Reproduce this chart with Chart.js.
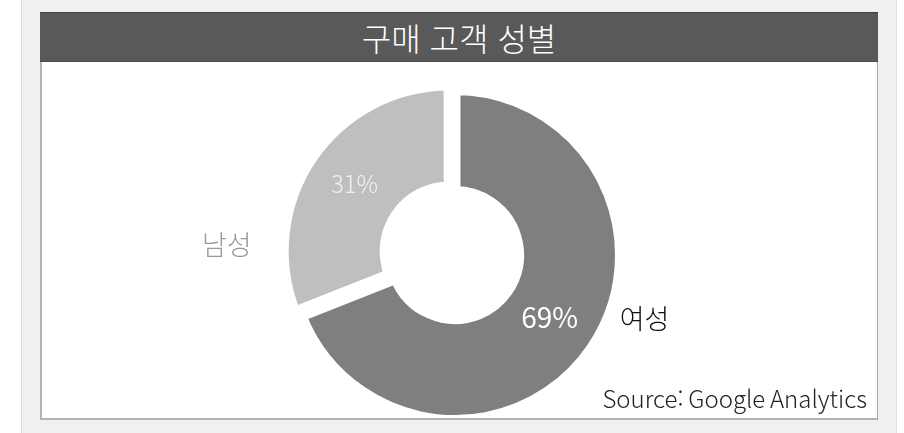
<!DOCTYPE html>
<html lang="ko">
<head>
<meta charset="utf-8">
<script src="https://cdn.jsdelivr.net/npm/chart.js@4.4.1/dist/chart.umd.min.js"></script>
<style>
  html, body { margin: 0; padding: 0; background: #fff; }
  body { width: 904px; height: 433px; position: relative; overflow: hidden;
         font-family: "Noto Sans CJK KR", "Noto Sans", sans-serif; }
  .wrap { position: absolute; left: 21px; top: 0; width: 874px; height: 433px;
          background: #f0f0f0; border-left: 1px solid #dcdce4; border-right: 1px solid #dcdce4; }
  .panel { position: absolute; left: 40px; top: 12px; width: 838px; height: 408px; background: #fff; }
  .clip { position: absolute; left: 0; top: 0; width: 904px; height: 420px; overflow: hidden; }
  .frame { position: absolute; left: 40px; top: 12px; width: 835px; height: 406px;
           border-left: 2px solid #b3b3b3; border-right: 1px solid #a8a8a8;
           border-bottom: 2px solid #b3b3b3; pointer-events: none; }
  .title { position: absolute; left: 40px; top: 12px; width: 838px; height: 48px;
           background: #595959; border-top: 1px solid #3e3e3e; border-bottom: 1px solid #4c4c4c;
           color: #fff; font-size: 32px; line-height: 48px; text-align: center; font-weight: 300; }
  .source { position: absolute; right: 37px; top: 380px; font-size: 24px; color: #222;
            font-weight: 300; word-spacing: -2px; }
  #chart { position: absolute; left: 0; top: 0; }
</style>
</head>
<body>
<div class="wrap"></div>
<div class="panel"></div>
<div class="clip"><canvas id="chart" width="904" height="433"></canvas></div>
<div class="frame"></div>
<div class="title">구매 고객 성별</div>
<div class="source">Source: Google Analytics</div>
<script>
// data
const genderLabels = ['여성', '남성'];
const genderShare = [69, 31];
const sliceColors = ['#7f7f7f', '#bfbfbf'];
const sliceOffsets = [0, 28];

// label text styling per category
const pctStyle = [
  { font: '400 28px "Noto Sans CJK KR"', color: '#ffffff' },
  { font: '300 24px "Noto Sans CJK KR"', color: '#f2f2f2' }
];
const nameStyle = [
  { font: '300 27px "Noto Sans CJK KR"', color: '#111111', side: 'right' },
  { font: '300 27px "Noto Sans CJK KR"', color: '#9a9a9a', side: 'left' }
];

const sliceLabels = {
  id: 'sliceLabels',
  afterDatasetsDraw(chart) {
    const ctx = chart.ctx;
    const meta = chart.getDatasetMeta(0);
    meta.data.forEach((arc, i) => {
      const p = arc.getProps(['x', 'y', 'startAngle', 'endAngle', 'innerRadius', 'outerRadius'], true);
      const mid = (p.startAngle + p.endAngle) / 2;
      const shift = sliceOffsets[i] / 4;
      const rMid = (p.innerRadius + p.outerRadius) / 2 + shift;
      const tx = p.x + Math.cos(mid) * rMid;
      const ty = p.y + Math.sin(mid) * rMid - 2.5;
      ctx.save();
      ctx.textBaseline = 'middle';
      ctx.textAlign = 'center';
      ctx.font = pctStyle[i].font;
      ctx.fillStyle = pctStyle[i].color;
      ctx.fillText(genderShare[i] + '%', tx, ty);

      ctx.font = nameStyle[i].font;
      ctx.fillStyle = nameStyle[i].color;
      if (nameStyle[i].side === 'right') {
        ctx.textAlign = 'left';
        ctx.fillText(genderLabels[i], tx + 70, ty + 2);
      } else {
        ctx.textAlign = 'right';
        const cx = p.x + Math.cos(mid) * shift;
        ctx.fillText(genderLabels[i], cx - p.outerRadius - 32, p.y - 10);
      }
      ctx.restore();
    });
  }
};

new Chart(document.getElementById('chart'), {
  type: 'doughnut',
  data: {
    labels: genderLabels,
    datasets: [{
      data: genderShare,
      backgroundColor: sliceColors,
      borderColor: '#ffffff',
      borderWidth: 11,
      hoverBorderWidth: 11,
      offset: sliceOffsets,
      hoverOffset: 0
    }]
  },
  options: {
    responsive: false,
    animation: false,
    radius: 165.5,
    cutout: '38.4%',
    layout: { padding: { left: 290, right: 284, top: 95, bottom: 18 } },
    plugins: {
      legend: { display: false },
      tooltip: { enabled: false }
    },
    events: []
  },
  plugins: [sliceLabels]
});
</script>
</body>
</html>
